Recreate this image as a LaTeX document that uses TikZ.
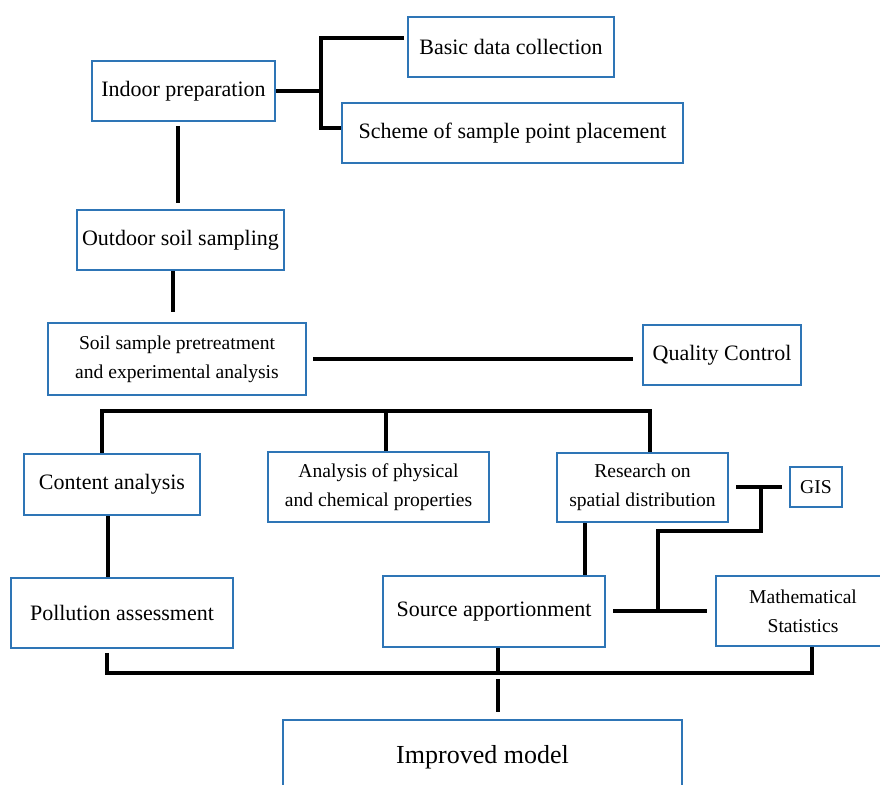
\documentclass[tikz,border=0pt]{standalone}
\usepackage{fontspec}
\setmainfont{Liberation Serif}
\definecolor{boxblue}{RGB}{46,117,182}

\begin{document}
\begin{tikzpicture}[x=0.5pt, y=-0.5pt,
  box/.style={draw=boxblue, line width=1pt, align=center, inner sep=0pt},
  big/.style={font=\fontsize{11}{13}\selectfont},
  small/.style={font=\fontsize{9.8}{14.5}\selectfont},
  link/.style={line width=2pt, black}]
\clip (0,0) rectangle (880,785);

\node [box, big, minimum width=91.5pt, minimum height=30pt] (indoor) at (183.5,91) {Indoor preparation};
\node [box, big, minimum width=103pt, minimum height=30pt] (basic) at (511,47) {Basic data collection};
\node [box, big, minimum width=170.5pt, minimum height=30pt] (scheme) at (512.5,133) {Scheme of sample point placement};
\node [box, big, minimum width=103.5pt, minimum height=30pt] (outdoor) at (180.5,240) {Outdoor soil sampling};
\node [box, small, minimum width=129pt, minimum height=36pt] (pretreat) at (177,359) {Soil sample pretreatment\\and experimental analysis};
\node [box, big, minimum width=79pt, minimum height=30pt] (quality) at (722,355) {Quality Control};
\node [box, big, minimum width=88pt, minimum height=30.5pt] (content) at (112,484.5) {Content analysis};
\node [box, small, minimum width=110.5pt, minimum height=35pt] (physical) at (378.5,487) {Analysis of physical\\and chemical properties};
\node [box, small, minimum width=85.5pt, minimum height=34.5pt] (research) at (642.5,487.5) {Research on\\spatial distribution};
\node [box, small, minimum width=26pt, minimum height=20pt] (gis) at (816,487) {GIS};
\node [box, big, minimum width=111pt, minimum height=35pt] (pollution) at (122,613) {Pollution assessment};
\node [box, big, minimum width=111pt, minimum height=35.5pt] (source) at (494,611.5) {Source apportionment};
\node [box, small, minimum width=87pt, minimum height=35pt] (maths) at (803,611) {Mathematical\\Statistics};
\node [box, font=\fontsize{13}{15}\selectfont, minimum width=199.5pt, minimum height=37pt] (improved) at (482.5,757) {Improved model};

% preparation fork
\coordinate (fork) at (321,91);
\draw [link] (indoor.east) -- (fork);
\draw [link, shorten <=1.5pt] ([yshift=4.5pt]basic.west) -| (fork) |- ([yshift=2.5pt]scheme.west);

% left column
\draw [link, shorten <=2pt, shorten >=3pt] ([xshift=-3pt]indoor.south) -- ([xshift=-3pt]indoor.south |- outdoor.north);
\draw [link, shorten >=5pt] ([xshift=-3.75pt]outdoor.south) -- ([xshift=-3.75pt]outdoor.south |- pretreat.north);
\draw [link, shorten <=3pt, shorten >=4.5pt] (pretreat.east) -- (pretreat.east -| quality.west);

% bus above the analyses
\coordinate (busA) at (0,411);
\draw [link] ([xshift=-5pt]content.north) |- ([xshift=3.75pt]research.north |- busA) -- ([xshift=3.75pt]research.north);
\draw [link] ([xshift=3.75pt]physical.north) -- ([xshift=3.75pt]physical.north |- busA);

\draw [link] ([xshift=-2pt]content.south) -- ([xshift=-2pt]content.south |- pollution.north);
\draw [link] ([xshift=45.5pt]source.north) -- ([xshift=45.5pt]source.north |- research.south);

% GIS and statistics
\coordinate (gistap) at (761,487.5);
\coordinate (gisknee) at (658,531);
\draw [link, shorten <=3.5pt, shorten >=3.5pt] (research.east) -- (research.east -| gis.west);
\draw [link] (gistap) |- (gisknee) -- (gisknee |- maths.west);
\draw [link, shorten <=3.5pt, shorten >=4pt] (source.east) -- (source.east -| maths.west);

% bus below
\coordinate (busB) at (0,673);
\draw [link, shorten <=2pt] ([xshift=-7.5pt]pollution.south) |- ([xshift=4.5pt]maths.south |- busB) -- ([xshift=4.5pt]maths.south);
\draw [link] ([xshift=2pt]source.south) -- ([xshift=2pt]source.south |- busB);
\draw [link, shorten <=3.5pt, shorten >=3pt] ([xshift=7.5pt]improved.north) -- ([xshift=7.5pt]improved.north |- busB);
\end{tikzpicture}
\end{document}
